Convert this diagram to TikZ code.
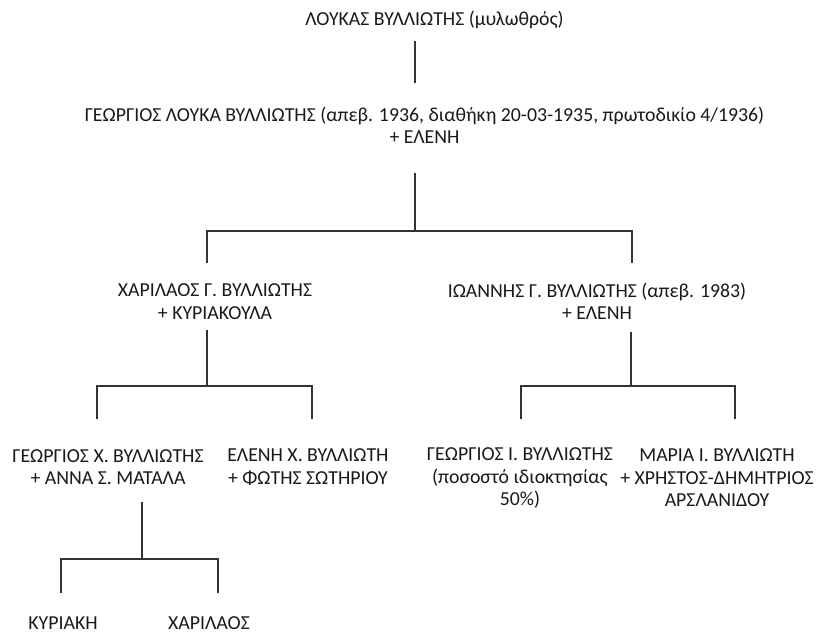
\documentclass[tikz,border=0pt]{standalone}
\usepackage{fontspec}
\setmainfont{Carlito}
\begin{document}
\begin{tikzpicture}[x=1pt,y=-1pt,
  person/.style={inner sep=0pt, align=center, text=black!90, font=\fontsize{19.8}{22.5}\selectfont},
  link/.style={draw=black!80, line width=1.1pt}]
\useasboundingbox (0,0) rectangle (823,633);
% people
\node[person] (lou) at (434.5,20) {ΛΟΥΚΑΣ ΒΥΛΛΙΩΤΗΣ (μυλωθρός)};
\node[person] (geo) at (424.5,125.5) {ΓΕΩΡΓΙΟΣ ΛΟΥΚΑ ΒΥΛΛΙΩΤΗΣ (απεβ. 1936, διαθήκη 20-03-1935, πρωτοδικίο 4/1936)\\+ ΕΛΕΝΗ};
\node[person] (har) at (215,301.5) {ΧΑΡΙΛΑΟΣ Γ. ΒΥΛΛΙΩΤΗΣ\\+ ΚΥΡΙΑΚΟΥΛΑ};
\node[person] (ioa) at (597,301.5) {ΙΩΑΝΝΗΣ Γ. ΒΥΛΛΙΩΤΗΣ (απεβ. 1983)\\+ ΕΛΕΝΗ};
\node[person] (gx) at (108,467) {ΓΕΩΡΓΙΟΣ Χ. ΒΥΛΛΙΩΤΗΣ\\+ ΑΝΝΑ Σ. ΜΑΤΑΛΑ};
\node[person] (ex) at (308,467) {ΕΛΕΝΗ Χ. ΒΥΛΛΙΩΤΗ\\+ ΦΩΤΗΣ ΣΩΤΗΡΙΟΥ};
\node[person] (gi) at (520,478) {ΓΕΩΡΓΙΟΣ Ι. ΒΥΛΛΙΩΤΗΣ\\(ποσοστό ιδιοκτησίας\\50\%)};
\node[person] (mi) at (717,478) {ΜΑΡΙΑ Ι. ΒΥΛΛΙΩΤΗ\\+ ΧΡΗΣΤΟΣ-ΔΗΜΗΤΡΙΟΣ\\ΑΡΣΛΑΝΙΔΟΥ};
\node[person] (ky) at (63,623) {ΚΥΡΙΑΚΗ};
\node[person] (hx) at (209,623) {ΧΑΡΙΛΑΟΣ};
% junction points
\coordinate (a1) at (415,41);  \coordinate (a2) at (415,83);
\coordinate (b1) at (415,173); \coordinate (b2) at (415,231);
\coordinate (bl) at (207,231); \coordinate (br) at (632,231);
\coordinate (blo) at (207,263); \coordinate (bro) at (632,263);
\coordinate (c1) at (207,330); \coordinate (c2) at (207,386);
\coordinate (cl) at (97,386);  \coordinate (cr) at (312,386);
\coordinate (clo) at (97,419); \coordinate (cro) at (312,419);
\coordinate (d1) at (631,332); \coordinate (d2) at (631,386);
\coordinate (dl) at (521,386); \coordinate (dr) at (735,386);
\coordinate (dlo) at (521,419); \coordinate (dro) at (735,419);
\coordinate (e1) at (142,502); \coordinate (e2) at (142,559);
\coordinate (el) at (61,559);  \coordinate (er) at (218,559);
\coordinate (elo) at (61,593); \coordinate (ero) at (218,593);
% connectors
\draw[link] (a1) -- (a2);
\draw[link] (b1) -- (b2);
\draw[link] (blo) -- (bl) -- (br) -- (bro);
\draw[link] (c1) -- (c2);
\draw[link] (clo) -- (cl) -- (cr) -- (cro);
\draw[link] (d1) -- (d2);
\draw[link] (dlo) -- (dl) -- (dr) -- (dro);
\draw[link] (e1) -- (e2);
\draw[link] (elo) -- (el) -- (er) -- (ero);
\end{tikzpicture}
\end{document}
